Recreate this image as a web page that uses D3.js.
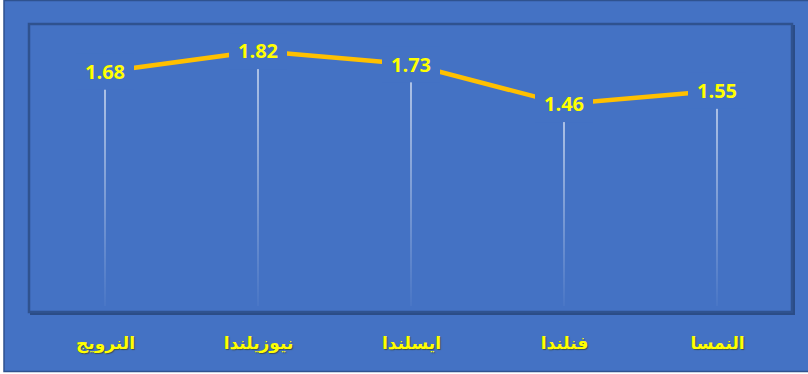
<!DOCTYPE html>
<html>
<head>
<meta charset="utf-8">
<script src="https://cdn.jsdelivr.net/npm/d3@7"></script>
<style>
  body { margin: 0; background: #fff; }
</style>
</head>
<body>
<svg width="808" height="374"></svg>
<script>
// Data
const categories = ["النرويج", "نيوزيلندا", "ايسلندا", "فنلندا", "النمسا"];
const values = [1.68, 1.82, 1.73, 1.46, 1.55];

const svg = d3.select("svg");

// Outer chart area
svg.append("rect")
  .attr("x", 4).attr("y", 0.5)
  .attr("width", 808).attr("height", 371)
  .attr("fill", "#4472C4")
  .attr("stroke", "#2F528F").attr("stroke-width", 1.5);

// Plot area box
const plot = { left: 29, top: 24, right: 792, bottom: 312 };
svg.append("rect")
  .attr("x", plot.left + 2).attr("y", plot.top + 2)
  .attr("width", plot.right - plot.left).attr("height", plot.bottom - plot.top)
  .attr("fill", "none").attr("stroke", "#2B4C86").attr("stroke-width", 2);
svg.append("rect")
  .attr("x", plot.left).attr("y", plot.top)
  .attr("width", plot.right - plot.left).attr("height", plot.bottom - plot.top)
  .attr("fill", "#4472C4")
  .attr("stroke", "#2F528F").attr("stroke-width", 2.5);

// Scales
const x = d3.scalePoint().domain(categories).range([105, 717]);
const y = d3.scaleLinear().domain([0, 2]).range([319, 24.6]);

// Drop-line gradient
const defs = svg.append("defs");
const grad = defs.append("linearGradient")
  .attr("id", "drop").attr("x1", 0).attr("y1", 0).attr("x2", 0).attr("y2", 1);
grad.append("stop").attr("offset", "0%").attr("stop-color", "#fff").attr("stop-opacity", 1);
grad.append("stop").attr("offset", "100%").attr("stop-color", "#fff").attr("stop-opacity", 0.05);

const pts = categories.map((c, i) => ({ cat: c, value: values[i] }));

// Drop lines
svg.selectAll(".drop").data(pts).enter().append("rect")
  .attr("class", "drop")
  .attr("x", d => x(d.cat) - 0.6)
  .attr("y", d => y(d.value))
  .attr("width", 1.2)
  .attr("height", d => 306 - y(d.value))
  .attr("fill", "url(#drop)");

// Series line
const line = d3.line().x(d => x(d.cat)).y(d => y(d.value));
svg.append("path")
  .datum(pts)
  .attr("fill", "none")
  .attr("stroke", "#FFC000")
  .attr("stroke-width", 4.5)
  .attr("d", line);

// Data labels with background
const lbl = svg.selectAll(".lbl").data(pts).enter().append("g")
  .attr("class", "lbl")
  .attr("transform", d => `translate(${x(d.cat)},${y(d.value)})`);
lbl.append("rect")
  .attr("x", -29).attr("y", -18)
  .attr("width", 58).attr("height", 36)
  .attr("fill", "#4472C4");
lbl.append("text")
  .attr("text-anchor", "middle")
  .attr("dy", "0.36em")
  .attr("fill", "#FFFF00")
  .style("font-family", "'Open Sans', sans-serif")
  .style("font-weight", "bold")
  .style("font-size", "20px")
  .text(d => d.value.toFixed(2));

// Category labels
const xAxis = svg.append("g")
  .attr("transform", "translate(0,343)")
  .call(d3.axisBottom(x).tickSize(0).tickPadding(0));
xAxis.select(".domain").remove();
xAxis.selectAll("text")
  .attr("dy", "0.35em")
  .attr("y", 0)
  .attr("fill", "#FFFF00")
  .attr("direction", "rtl")
  .style("text-anchor", "middle")
  .style("font-family", "'DejaVu Sans', sans-serif")
  .style("font-weight", "bold")
  .style("font-size", "17px")
  .style("text-shadow", "1px 1px 1px rgba(60,60,0,0.6)");
</script>
</body>
</html>
